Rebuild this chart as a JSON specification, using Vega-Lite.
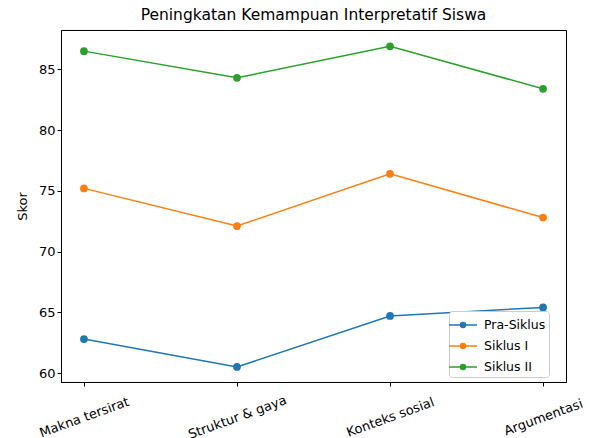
{
  "$schema": "https://vega.github.io/schema/vega-lite/v6.json",
  "width": 505,
  "height": 352,
  "autosize": {"type": "none"},
  "padding": {"left": 61, "top": 30, "right": 24, "bottom": 56},
  "background": "white",
  "title": {"text": "Peningkatan Kemampuan Interpretatif Siswa", "font": "DejaVu Sans", "fontSize": 15.5, "fontWeight": "normal", "color": "black", "offset": 7},
  "config": {
    "view": {"stroke": "black", "strokeWidth": 1},
    "axis": {"labelFont": "DejaVu Sans", "titleFont": "DejaVu Sans", "labelFontSize": 13, "titleFontSize": 13, "titleFontWeight": "normal", "labelColor": "black", "titleColor": "black", "tickColor": "black", "domainColor": "black", "grid": false, "tickSize": 4}
  },
  "data": {"values": [
    {"aspek": "Makna tersirat", "siklus": "Pra-Siklus", "skor": 62.8},
    {"aspek": "Struktur & gaya", "siklus": "Pra-Siklus", "skor": 60.5},
    {"aspek": "Konteks sosial", "siklus": "Pra-Siklus", "skor": 64.7},
    {"aspek": "Argumentasi", "siklus": "Pra-Siklus", "skor": 65.4},
    {"aspek": "Makna tersirat", "siklus": "Siklus I", "skor": 75.2},
    {"aspek": "Struktur & gaya", "siklus": "Siklus I", "skor": 72.1},
    {"aspek": "Konteks sosial", "siklus": "Siklus I", "skor": 76.4},
    {"aspek": "Argumentasi", "siklus": "Siklus I", "skor": 72.8},
    {"aspek": "Makna tersirat", "siklus": "Siklus II", "skor": 86.5},
    {"aspek": "Struktur & gaya", "siklus": "Siklus II", "skor": 84.3},
    {"aspek": "Konteks sosial", "siklus": "Siklus II", "skor": 86.9},
    {"aspek": "Argumentasi", "siklus": "Siklus II", "skor": 83.4}
  ]},
  "encoding": {
    "x": {"field": "aspek", "type": "nominal", "sort": null, "scale": {"type": "point", "padding": 0.15},
      "axis": {"title": null, "labelAngle": -20, "labelAlign": "center", "labelBaseline": "middle", "labelPadding": 31, "labelOverlap": false, "labelBound": false}},
    "y": {"field": "skor", "type": "quantitative", "scale": {"domain": [59.26, 88.24], "nice": false, "zero": false},
      "axis": {"title": "Skor", "values": [60, 65, 70, 75, 80, 85], "titlePadding": 9}},
    "color": {"field": "siklus", "type": "nominal", "sort": ["Pra-Siklus", "Siklus I", "Siklus II"],
      "scale": {"domain": ["Pra-Siklus", "Siklus I", "Siklus II"], "range": ["#1f77b4", "#ff7f0e", "#2ca02c"]},
      "legend": {"title": null, "orient": "none", "legendX": 388, "legendY": 281, "labelFont": "DejaVu Sans", "labelFontSize": 12.5, "labelColor": "black",
        "fillColor": "white", "strokeColor": "#cccccc", "padding": 3, "cornerRadius": 3, "rowPadding": 3, "labelOffset": 10,
        "symbolType": "M-1.4,0L1.4,0M0.25,0A0.25,0.25 0 1,1 -0.25,0A0.25,0.25 0 1,1 0.25,0Z", "symbolSize": 400, "symbolStrokeWidth": 1.5}}
  },
  "layer": [
    {"mark": {"type": "line", "strokeWidth": 1.5}},
    {"mark": {"type": "point", "filled": true, "size": 60, "opacity": 1}}
  ]
}
